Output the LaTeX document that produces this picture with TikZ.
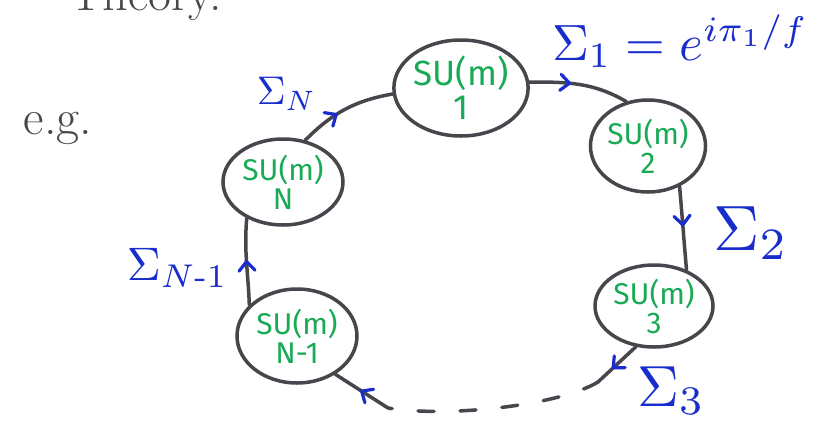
\documentclass[tikz,border=0pt]{standalone}
\usepackage{amsmath}
\usepackage{fontspec}
\newfontfamily\hand{Fira Sans}
\usetikzlibrary{shapes.geometric,decorations.markings}
\definecolor{ink}{RGB}{72,70,76}
\definecolor{grn}{RGB}{25,170,85}
\definecolor{blu}{RGB}{25,45,205}
\tikzset{
 grp/.style={ellipse, draw=ink, line width=3.5pt, inner sep=0pt, text=grn, align=center, font=\hand\fontsize{30}{29}\selectfont},
 link/.style={draw=ink, line width=3.5pt, line cap=round},
 chev/.style={postaction={decorate}, decoration={markings, mark=at position #1 with {\draw[blu, line width=3.2pt, line cap=round, line join=round] (-9pt,8pt) -- (0pt,0pt) -- (-9pt,-8pt);}}},
 lab/.style={text=blu, inner sep=0pt, anchor=base west},
 handtxt/.style={text=ink, inner sep=0pt},
}
\begin{document}
\begin{tikzpicture}[x=1pt,y=-1pt]
\useasboundingbox (0,0) rectangle (817,429);
\fill[white] (0,0) rectangle (817,429);
% header and e.g.
\node[handtxt, anchor=base east, font=\fontsize{50}{50}\selectfont] (hdr) at (222,10) {Theory.};
\node[handtxt, font=\fontsize{50}{50}\selectfont] (eg) at (58,128) {e.g.};
% groups
\node[grp, minimum width=124pt, minimum height=96pt, font=\hand\fontsize{35}{34}\selectfont] (n1) at (461,88) {SU(m)\\1};
\node[grp, minimum width=114pt, minimum height=92pt] (n2) at (648,146) {SU(m)\\2};
\node[grp, minimum width=118pt, minimum height=82pt] (n3) at (654,306) {SU(m)\\3};
\node[grp, minimum width=120pt, minimum height=94pt] (nN1) at (297,336) {SU(m)\\N-1};
\node[grp, minimum width=120pt, minimum height=86pt] (nN) at (283,182) {SU(m)\\N};
% free ends of the dashed stretch
\coordinate (d1) at (598,382);
\coordinate (d2) at (388,408);
% links
\draw[link, chev=0.4] (n1.5) to[out=0,in=150] (n2.116);
\draw[link, chev=0.46] (n2.-52) to[out=-85,in=95] (n3.48);
\draw[link, chev=0.6] (n3.246) -- (d1);
\draw[link, dash pattern=on 16pt off 26pt] (d1) .. controls (560,405) and (450,418) .. (d2);
\draw[link, chev=0.5] (d2) -- (nN1.-45);
\draw[link, chev=0.5] (nN1.147) to[out=92,in=-95] (nN.225);
\draw[link, chev=0.4] (nN.62) to[out=45,in=190] (n1.185);
% labels
\node[lab, scale=5.1] (s1) at (551,60) {$\Sigma_1 = e^{i\pi_1/f}$};
\node[lab, scale=6.4] (s2) at (712,250) {$\Sigma_2$};
\node[lab, scale=5.8] (s3) at (636,406) {$\Sigma_3$};
\node[lab, scale=4.7] (sN1) at (126,280) {$\Sigma_{N\text{-}1}$};
\node[lab, scale=4.0] (sN) at (256,104) {$\Sigma_N$};
\end{tikzpicture}
\end{document}
